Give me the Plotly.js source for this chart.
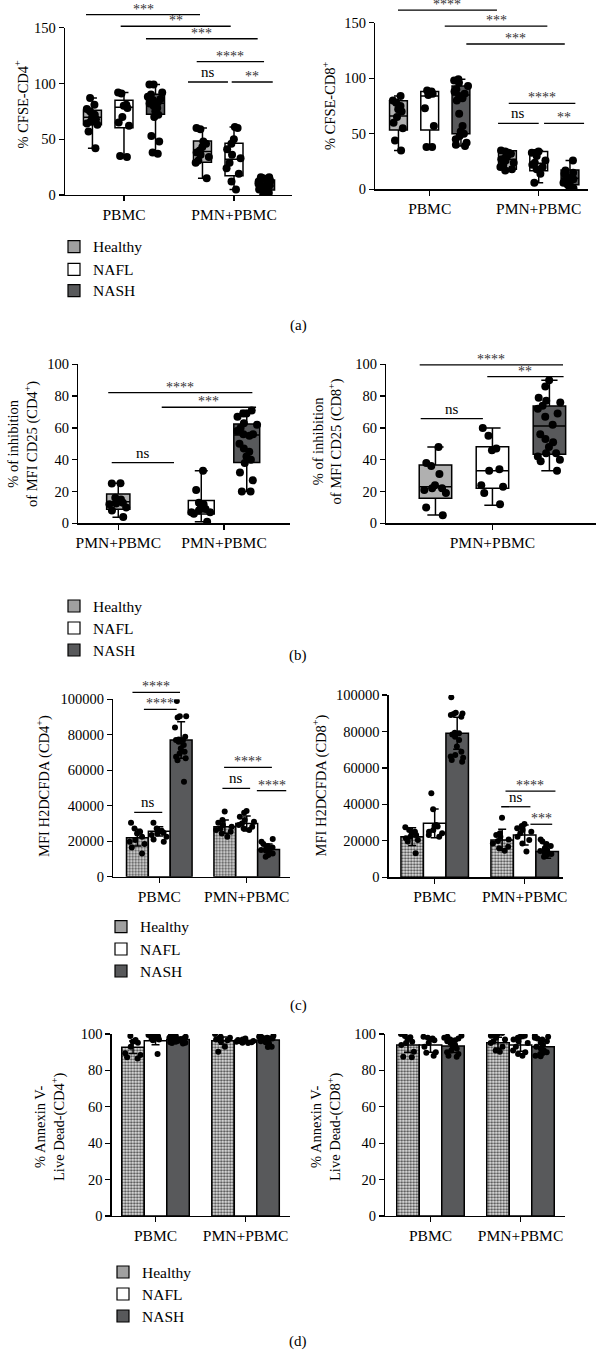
<!DOCTYPE html>
<html><head><meta charset="utf-8">
<script src="https://cdn.plot.ly/plotly-3.0.1.min.js"></script>
<style>html,body{margin:0;padding:0;background:#fff}</style>
</head><body><div id="chart" style="width:598px;height:1353px"></div>
<script>
// ---------------- DATA ----------------
const conds = ['PBMC', 'PMN+PBMC'];
const groups = ['Healthy', 'NAFL', 'NASH'];

// (a) % CFSE-CD4+  (points per condition, box stats per condition)
const cfse4_Healthy = [[87,81,77,75,72,70,68,66,64,63,57,42],[60,59,48,46,43,40,38,36,34,31,29,15]];
const cfse4_NAFL    = [[92,91,81,80,78,70,65,62,35,34],[61,60,50,46,41,36,33,29,24,19,12,5]];
const cfse4_NASH    = [[99,99,92,90,88,86,85,83,82,80,78,75,72,70,53,48,38,37],[16,16,15,14,13,12,11,10,9,8,8,7,6,5,4,3,2,1,0]];
const cfse4_HealthyBox = {q1:[63,29.3], median:[69.6,38.9], q3:[76,48.4], min:[42,15], max:[87,60]};
const cfse4_NAFLBox    = {q1:[60.4,17.3], median:[78.6,32], q3:[85,46.3], min:[34,5], max:[92,61]};
const cfse4_NASHBox    = {q1:[72.3,4.5], median:[82.2,8], q3:[90.3,13.4], min:[37,0], max:[99,16]};

// (a) % CFSE-CD8+
const cfse8_Healthy = [[84,80,78,75,72,70,65,60,55,44,35],[35,34,33,32,30,28,27,26,24,22,20,18,17]];
const cfse8_NAFL    = [[89,88,87,86,85,73,57,38,38],[34,33,33,30,26,24,22,20,18,14,6]];
const cfse8_NASH    = [[99,98,96,93,90,88,86,84,82,80,68,57,52,50,48,45,42,40,39],[26,17,15,14,12,10,9,8,7,6,4,2,1,0]];
const cfse8_HealthyBox = {q1:[53.4,18], median:[66,27], q3:[79.8,34.8], min:[35,17], max:[84,35]};
const cfse8_NAFLBox    = {q1:[53.4,16.8], median:[84,23.4], q3:[88,34], min:[38,6], max:[89,35]};
const cfse8_NASHBox    = {q1:[50,4], median:[85,10], q3:[93,17.4], min:[39,0], max:[99,26]};

// (b) % inhibition of MFI CD25 (PMN+PBMC)
const cd25_4_Healthy = [[25.2,25,16,15,14,13,12.5,12,10,8,4]];
const cd25_4_NAFL    = [[33,21,13,12,10,9,8,7,7,6,1]];
const cd25_4_NASH    = [[71,69,69,67,63,62,60,58,56,56,55,50,47,45,42,40,38,32,27,20,20]];
const cd25_4_HealthyBox = {q1:[8.8], median:[13.6], q3:[18.4], min:[3.8], max:[25.2]};
const cd25_4_NAFLBox    = {q1:[5.9], median:[7.3], q3:[14.3], min:[1], max:[33]};
const cd25_4_NASHBox    = {q1:[38.2], median:[55.6], q3:[62.5], min:[20], max:[71]};

const cd25_8_Healthy = [[48,38,36,31,24,22,22,21,19,10,5]];
const cd25_8_NAFL    = [[60,55,47,46,34,33,24,23,19,12]];
const cd25_8_NASH    = [[90,86,79,77,76,74,72,69,67,62,56,53,51,48,44,44,42,40,39,33]];
const cd25_8_HealthyBox = {q1:[15.7], median:[23], q3:[36.7], min:[5.2], max:[48]};
const cd25_8_NAFLBox    = {q1:[22], median:[33.1], q3:[48.2], min:[11.3], max:[60]};
const cd25_8_NASHBox    = {q1:[43.4], median:[61.2], q3:[73.8], min:[33], max:[90]};

// (c) MFI H2DCFDA
const ros4_HealthyMean = [22000, 28200], ros4_HealthySD = [4700, 3700];
const ros4_NAFLMean    = [25600, 30000], ros4_NAFLSD    = [2600, 4200];
const ros4_NASHMean    = [77000, 15400], ros4_NASHSD    = [10300, 3000];
const ros4_HealthyPts = [[30400,27200,25400,24400,22500,20700,19700,18400,16500,13100],[36800,31900,30400,29100,28200,27200,26300,25400,24400,22500]];
const ros4_NAFLPts    = [[30400,27200,25900,25400,24800,24400,23500,22500,21000,19700],[37000,36100,33800,31900,31000,30000,29100,28200,27200,26300]];
const ros4_NASHPts    = [[99000,90500,90500,89800,84100,78900,77400,77000,77000,76100,74200,72300,70400,69500,67600,66700,65700,53500],[21200,19700,18400,17300,16500,16000,15400,15000,14600,14100,13100,12200,11300]];

const ros8_HealthyMean = [22300, 20500], ros8_HealthySD = [4900, 5800];
const ros8_NAFLMean    = [29600, 23200], ros8_NAFLSD    = [7900, 5500];
const ros8_NASHMean    = [79000, 14100], ros8_NASHSD    = [8800, 3600];
const ros8_HealthyPts = [[27400,26000,25000,24100,23200,22300,21400,20500,19600,13200],[32700,24100,23200,22300,20800,19900,18600,16800,15900,14600]];
const ros8_NAFLPts    = [[46100,37300,28700,28200,27800,26000,25000,24100,23200,22300],[29300,28200,26900,26000,25000,24100,22300,20500,18600,14100]];
const ros8_NASHPts    = [[98700,90300,89900,89600,89000,88100,79300,79000,78400,77100,75300,71700,68900,67100,66200,65600,64400,63400],[20800,19600,18300,17200,15900,15000,14400,13500,13200,12800,12200,11300]];

// (d) % Annexin V- Live Dead-
const anx4_HealthyMean = [92.7, 96.3], anx4_HealthySD = [3.4, 2];
const anx4_NAFLMean    = [96.3, 95.8], anx4_NAFLSD    = [2.2, 0.8];
const anx4_NASHMean    = [97, 96.7],   anx4_NASHSD    = [1, 2];
const anx4_HealthyPts = [[98.9,96.7,95.8,95.2,93,89.4,88.5,87.2,86.6],[100,98.5,98,97.5,97,96.5,96,93,90.3]];
const anx4_NAFLPts    = [[99.5,99,98.7,98.5,98.2,98,97.5,97,96.5,89],[97.5,97,96.7,96.5,96.2,96,95.8,95.5,95.2,95]];
const anx4_NASHPts    = [[99.5,99,98.7,98.5,98.2,98,97.7,97.5,97.2,97,96.8,96.5,96.2,96,95.8,95.5,95.2,95,94.8],[100,99,98.5,98.2,98,97.5,97,96.5,96,95.5,95,93,92.8]];

const anx8_HealthyMean = [94, 95.2], anx8_HealthySD = [4, 3];
const anx8_NAFLMean    = [94, 94],   anx8_NAFLSD    = [4, 3.5];
const anx8_NASHMean    = [93.4, 93], anx8_NASHSD    = [3.5, 3.5];
const anx8_HealthyPts = [[100,98.9,98.2,97.1,95.8,95,94,90.3,87.5,87.2],[100.5,100,99.5,99,98,97,96,95,93,91,90.3]];
const anx8_NAFLPts    = [[98.5,98,97.5,97,96.5,95,93,90,89.7,88],[99,98.5,98,97,96,95,93,91,90,89,88]];
const anx8_NASHPts    = [[99,98.5,98,97.5,97,96.5,96,95,94,93,92,91,90,89,88,87.5],[99,98.5,98,97.5,97,96,95,94,93,92,91,90,89.5,89,88,87.8]];

// significance brackets: [from, to, level, label]
const sigA4 = [[-0.345,0.691,161.7,'***'],[-0.03,0.97,151.3,'**'],[0.2,1.215,140.1,'***'],[0.661,1.273,119.5,'****'],[0.582,0.945,101.3,'ns'],[0.979,1.352,101.3,'**']];
const sigA8 = [[-0.291,0.617,161.4,'****'],[0.138,1.079,147,'***'],[0.336,1.239,130.8,'***'],[0.725,1.336,77.4,'****'],[0.627,1.0,59.4,'ns'],[1.049,1.416,59.4,'**']];
const sigB4 = [[-0.095,1.268,82.2,'****'],[0.411,1.303,73.0,'***'],[-0.062,0.527,38.2,'ns']];
const sigB8 = [[-0.366,0.355,99.6,'****'],[-0.026,0.358,92.2,'**'],[-0.361,-0.048,65.8,'ns']];
const sigC4 = [[-0.307,0.237,103900,'****'],[-0.176,0.199,94300,'****'],[-0.287,0.034,36300,'ns'],[0.741,1.288,61600,'****'],[0.722,1.039,49800,'ns'],[1.116,1.452,48500,'****']];
const sigC8 = [[0.787,1.342,47300,'****'],[0.739,1.064,38700,'ns'],[1.064,1.306,29100,'***']];

// ---------------- STYLE / LAYOUT ----------------
const W = 598, H = 1353;
const FONT = 'Liberation Serif, Times New Roman, serif';
const fills = {Healthy: '#b0b0b0', NAFL: '#ffffff', NASH: '#58595b'};
const offs = {Healthy: 'H', NAFL: 'L', NASH: 'S'};
const sfx = n => (n === 1 ? '' : String(n));

const panels = [
  {n:1, x:[65,292],     y:[27.7,195],   xr:[-0.536,1.527], ymax:150,    dt:50,    cats:conds, sig:sigA4},
  {n:2, x:[375.3,588],  y:[22.7,189.3], xr:[-0.499,1.452], ymax:150,    dt:50,    cats:conds, sig:sigA8},
  {n:3, x:[78.3,290],   y:[364.3,523.3],xr:[-0.378,1.624], ymax:100,    dt:20,    cats:['c1','c2'], ticktext:['PMN+PBMC','PMN+PBMC'], sig:sigB4},
  {n:4, x:[386.3,596],  y:[364.3,523.3],xr:[-0.534,0.521], ymax:100,    dt:20,    cats:['PMN+PBMC'], sig:sigB8},
  {n:5, x:[113.3,290],  y:[699.3,876.7],xr:[-0.526,1.495], ymax:100000, dt:20000, cats:conds, sig:sigC4},
  {n:6, x:[388.7,563],  y:[695,877.3],  xr:[-0.511,1.426], ymax:100000, dt:20000, cats:conds, sig:sigC8},
  {n:7, x:[111.7,290],  y:[1034,1216],  xr:[-0.487,1.494], ymax:100,    dt:20,    cats:conds, sig:[]},
  {n:8, x:[385.3,564.7],y:[1034,1216],  xr:[-0.502,1.491], ymax:100,    dt:20,    cats:conds, sig:[]}
];

const layout = {
  width: W, height: H, margin: {l:0, r:0, t:0, b:0},
  paper_bgcolor: '#fff', plot_bgcolor: 'rgba(0,0,0,0)',
  showlegend: false, hovermode: false,
  font: {family: FONT, color: '#000', size: 14},
  boxmode: 'group', boxgap: 0.14, boxgroupgap: 0.43,
  barmode: 'group', bargap: 0.25, bargroupgap: 0,
  violinmode: 'group', violingap: 0.25, violingroupgap: 0,
  shapes: [], annotations: []
};

panels.forEach(p => {
  const s = sfx(p.n);
  const xa = {
    domain: [p.x[0]/W, p.x[1]/W], range: p.xr, type: 'category',
    categoryorder: 'array', categoryarray: p.cats, anchor: 'y' + s,
    showline: true, linecolor: '#000', linewidth: 1.3, showgrid: false, zeroline: false,
    ticks: 'outside', ticklen: 5, tickwidth: 1.3, tickcolor: '#000',
    tickfont: {family: FONT, size: 15.5, color: '#000'}, fixedrange: true
  };
  if (p.ticktext) { xa.tickmode = 'array'; xa.tickvals = p.cats; xa.ticktext = p.ticktext; }
  layout['xaxis' + s] = xa;
  layout['yaxis' + s] = {
    domain: [1 - p.y[1]/H, 1 - p.y[0]/H], range: [0, p.ymax], anchor: 'x' + s,
    tickmode: 'linear', tick0: 0, dtick: p.dt, tickformat: 'd',
    showline: true, linecolor: '#000', linewidth: 1.3, showgrid: false, zeroline: false,
    ticks: 'outside', ticklen: 5, tickwidth: 1.3, tickcolor: '#000',
    tickfont: {family: FONT, size: 14.5, color: '#000'}, fixedrange: true
  };
  p.sig.forEach(([a, b, v, t]) => {
    const yd = v / p.ymax;
    layout.shapes.push({type:'line', xref:'x'+s, yref:'y'+s+' domain', x0:a, x1:b, y0:yd, y1:yd,
      line:{color:'#000', width:1.3}});
    const isNs = t === 'ns';
    layout.annotations.push({xref:'x'+s, yref:'y'+s+' domain', x:(a+b)/2, y:yd, text:t,
      showarrow:false, xanchor:'center', yanchor:'bottom', yshift: isNs ? 0 : -4,
      font:{family:FONT, size: isNs ? 15 : 14, color: isNs ? '#000' : '#333'}});
  });
});

const traces = [];

function boxTraces(n, cats, ptsMap, statMap, healthyWidth) {
  const s = sfx(n);
  groups.forEach(g => {
    const st = statMap[g];
    const tr = {
      type: 'box', xaxis: 'x' + s, yaxis: 'y' + s, name: g,
      x: cats, y: ptsMap[g],
      q1: st.q1, median: st.median, q3: st.q3, lowerfence: st.min, upperfence: st.max,
      boxpoints: 'all', jitter: 0.9, pointpos: 0, whiskerwidth: 0.5,
      fillcolor: fills[g], line: {color: '#000', width: 1.5},
      marker: {color: '#000', size: 8, line: {width: 0}}, hoverinfo: 'skip'
    };
    if (healthyWidth && g === 'Healthy') { tr.width = healthyWidth; }
    else { tr.offsetgroup = offs[g]; }
    traces.push(tr);
  });
}

boxTraces(1, conds, {Healthy: cfse4_Healthy, NAFL: cfse4_NAFL, NASH: cfse4_NASH},
  {Healthy: cfse4_HealthyBox, NAFL: cfse4_NAFLBox, NASH: cfse4_NASHBox});
boxTraces(2, conds, {Healthy: cfse8_Healthy, NAFL: cfse8_NAFL, NASH: cfse8_NASH},
  {Healthy: cfse8_HealthyBox, NAFL: cfse8_NAFLBox, NASH: cfse8_NASHBox});

// (b) left: Healthy alone in first slot, NAFL + NASH share the second slot
(function () {
  const s = '3';
  const ptsMap = {Healthy: cd25_4_Healthy, NAFL: cd25_4_NAFL, NASH: cd25_4_NASH};
  const statMap = {Healthy: cd25_4_HealthyBox, NAFL: cd25_4_NAFLBox, NASH: cd25_4_NASHBox};
  const catOf = {Healthy: ['c1'], NAFL: ['c2'], NASH: ['c2']};
  groups.forEach(g => {
    const st = statMap[g];
    const tr = {
      type: 'box', xaxis: 'x3', yaxis: 'y3', name: g, x: catOf[g], y: ptsMap[g],
      q1: st.q1, median: st.median, q3: st.q3, lowerfence: st.min, upperfence: st.max,
      boxpoints: 'all', jitter: 0.9, pointpos: 0, whiskerwidth: 0.5,
      fillcolor: fills[g], line: {color: '#000', width: 1.5},
      marker: {color: '#000', size: 8, line: {width: 0}}, hoverinfo: 'skip'
    };
    if (g === 'Healthy') tr.width = 0.22; else { tr.offsetgroup = offs[g]; tr.alignmentgroup = 'b'; }
    traces.push(tr);
  });
})();
boxTraces(4, ['PMN+PBMC'], {Healthy: cd25_8_Healthy, NAFL: cd25_8_NAFL, NASH: cd25_8_NASH},
  {Healthy: cd25_8_HealthyBox, NAFL: cd25_8_NAFLBox, NASH: cd25_8_NASHBox});

function barTraces(n, means, sds, pts) {
  const s = sfx(n);
  groups.forEach(g => {
    const marker = {color: fills[g], line: {color: '#000', width: 1.5}};
    if (g === 'Healthy') {
      marker.color = '#d8d8d8';
      marker.pattern = {shape: '.', size: 3, solidity: 0.45, fgcolor: '#4a4a4a', bgcolor: '#e6e6e6', fillmode: 'replace'};
    }
    traces.push({
      type: 'bar', xaxis: 'x' + s, yaxis: 'y' + s, name: g, x: conds, y: means[g],
      offsetgroup: offs[g], marker: marker, hoverinfo: 'skip',
      error_y: {type: 'data', array: sds[g], visible: true, color: '#000', thickness: 1.5, width: 4}
    });
    const xs = [], ys = [];
    pts[g].forEach((arr, i) => arr.forEach(v => { xs.push(conds[i]); ys.push(v); }));
    traces.push({
      type: 'violin', xaxis: 'x' + s, yaxis: 'y' + s, name: g, x: xs, y: ys,
      offsetgroup: offs[g], points: 'all', pointpos: 0, jitter: 0.85,
      fillcolor: 'rgba(0,0,0,0)', line: {color: 'rgba(0,0,0,0)', width: 0},
      box: {visible: false}, meanline: {visible: false}, spanmode: 'hard',
      marker: {color: '#000', size: 6, line: {width: 0}}, hoverinfo: 'skip'
    });
  });
}

barTraces(5, {Healthy: ros4_HealthyMean, NAFL: ros4_NAFLMean, NASH: ros4_NASHMean},
  {Healthy: ros4_HealthySD, NAFL: ros4_NAFLSD, NASH: ros4_NASHSD},
  {Healthy: ros4_HealthyPts, NAFL: ros4_NAFLPts, NASH: ros4_NASHPts});
barTraces(6, {Healthy: ros8_HealthyMean, NAFL: ros8_NAFLMean, NASH: ros8_NASHMean},
  {Healthy: ros8_HealthySD, NAFL: ros8_NAFLSD, NASH: ros8_NASHSD},
  {Healthy: ros8_HealthyPts, NAFL: ros8_NAFLPts, NASH: ros8_NASHPts});
barTraces(7, {Healthy: anx4_HealthyMean, NAFL: anx4_NAFLMean, NASH: anx4_NASHMean},
  {Healthy: anx4_HealthySD, NAFL: anx4_NAFLSD, NASH: anx4_NASHSD},
  {Healthy: anx4_HealthyPts, NAFL: anx4_NAFLPts, NASH: anx4_NASHPts});
barTraces(8, {Healthy: anx8_HealthyMean, NAFL: anx8_NAFLMean, NASH: anx8_NASHMean},
  {Healthy: anx8_HealthySD, NAFL: anx8_NAFLSD, NASH: anx8_NASHSD},
  {Healthy: anx8_HealthyPts, NAFL: anx8_NAFLPts, NASH: anx8_NASHPts});

// axis titles (rotated text)
const yTitles = [
  [21, 104.5, '% CFSE-CD4<sup>+</sup>'], [329, 106, '% CFSE-CD8<sup>+</sup>'],
  [23, 444, '% of inhibition<br>of MFI CD25 (CD4<sup>+</sup>)'], [327.5, 442, '% of inhibition<br>of MFI CD25 (CD8<sup>+</sup>)'],
  [43, 786, 'MFI H2DCFDA (CD4<sup>+</sup>)'], [319.5, 786, 'MFI H2DCFDA (CD8<sup>+</sup>)'],
  [50, 1127, '% Annexin V-<br>Live Dead-(CD4<sup>+</sup>)'], [326, 1127, '% Annexin V-<br>Live Dead-(CD8<sup>+</sup>)']
];
yTitles.forEach(([x, y, t]) => layout.annotations.push({
  xref: 'paper', yref: 'paper', x: x/W, y: 1 - y/H, text: t, textangle: -90, showarrow: false,
  xanchor: 'center', yanchor: 'middle', font: {family: FONT, size: 14.5, color: '#000'}
}));

// panel letters
[[298, 325, '(a)'], [298, 655, '(b)'], [298, 1005, '(c)'], [298, 1341, '(d)']].forEach(([x, y, t]) =>
  layout.annotations.push({xref: 'paper', yref: 'paper', x: x/W, y: 1 - y/H, text: t, showarrow: false,
    xanchor: 'center', yanchor: 'middle', font: {family: FONT, size: 15, color: '#000'}}));

// legends (one per panel)
const legends = [
  {x: 68, rows: [246.7, 269.3, 290.7]},
  {x: 68, rows: [606, 628, 650]},
  {x: 115, rows: [926.7, 949, 971]},
  {x: 117, rows: [1272, 1294, 1316]}
];
const legFill = {Healthy: '#a0a0a0', NAFL: '#ffffff', NASH: '#58595b'};
legends.forEach(L => {
  groups.forEach((g, i) => {
    const cy = L.rows[i];
    layout.shapes.push({type: 'rect', xref: 'paper', yref: 'paper',
      x0: L.x/W, x1: (L.x + 12)/W, y0: 1 - (cy + 6)/H, y1: 1 - (cy - 6)/H,
      fillcolor: legFill[g], line: {color: '#000', width: 1.2}});
    layout.annotations.push({xref: 'paper', yref: 'paper', x: (L.x + 23)/W, y: 1 - cy/H, text: g,
      showarrow: false, xanchor: 'left', yanchor: 'middle', font: {family: FONT, size: 15.5, color: '#000'}});
  });
});

Plotly.newPlot('chart', traces, layout, {displayModeBar: false, staticPlot: true});
</script></body></html>
